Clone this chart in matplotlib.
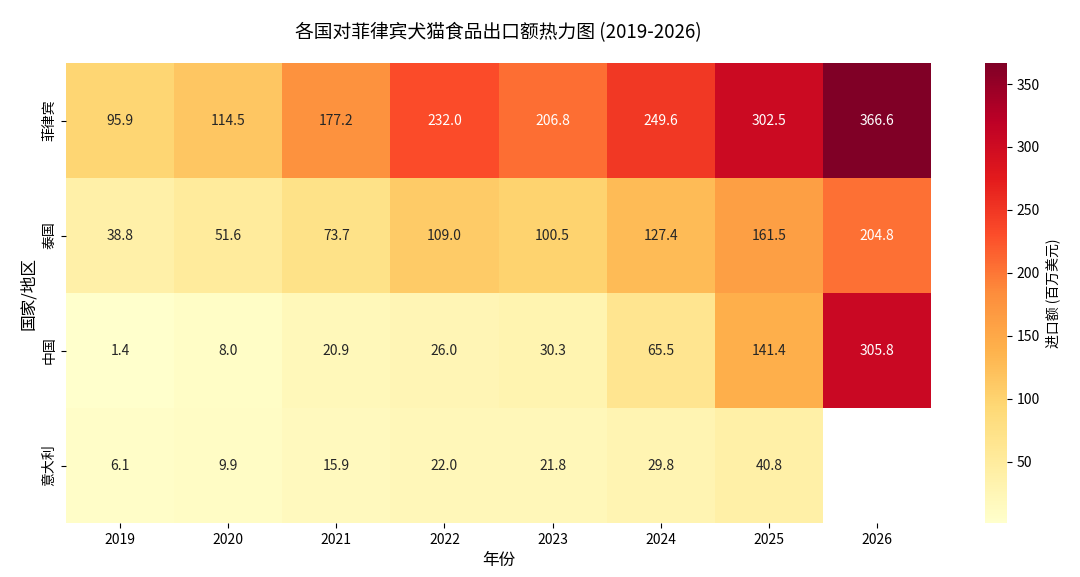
import numpy as np
import pandas as pd
import matplotlib
matplotlib.use("Agg")
import matplotlib.pyplot as plt
import seaborn as sns

plt.rcParams['font.family'] = ['Noto Sans CJK SC', 'DejaVu Sans']
plt.rcParams['axes.unicode_minus'] = False

years = [2019, 2020, 2021, 2022, 2023, 2024, 2025, 2026]
countries = ["菲律宾", "泰国", "中国", "意大利"]

philippines = [95.9, 114.5, 177.2, 232.0, 206.8, 249.6, 302.5, 366.6]
thailand = [38.8, 51.6, 73.7, 109.0, 100.5, 127.4, 161.5, 204.8]
china = [1.4, 8.0, 20.9, 26.0, 30.3, 65.5, 141.4, 305.8]
italy = [6.1, 9.9, 15.9, 22.0, 21.8, 29.8, 40.8, np.nan]

df = pd.DataFrame([philippines, thailand, china, italy], index=countries, columns=years)

fig = plt.figure(figsize=(10.8, 5.77), dpi=100)
ax = fig.add_axes([0.0611, 0.0936, 0.8010, 0.797])
cax = fig.add_axes([0.912, 0.0936, 0.0204, 0.797])

sns.heatmap(df, ax=ax, cbar_ax=cax, cmap="YlOrRd", annot=True, fmt=".1f",
            annot_kws={"fontsize": 10},
            cbar_kws={"label": "进口额 (百万美元)"})

ax.set_title("各国对菲律宾犬猫食品出口额热力图 (2019-2026)", fontsize=13.5, pad=18)
ax.set_xlabel("年份", fontsize=12)
ax.set_ylabel("国家/地区", fontsize=12)
ax.tick_params(axis='both', labelsize=10)
plt.setp(ax.get_yticklabels(), rotation=90, va='center')
cax.tick_params(labelsize=10)
cax.yaxis.label.set_size(10)
cax.set_frame_on(False)

fig.savefig("out.png", dpi=100)
